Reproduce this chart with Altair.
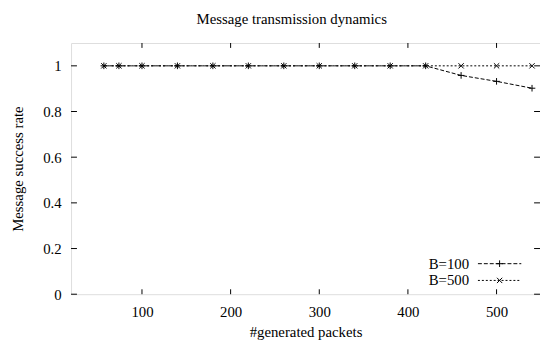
import altair as alt
import pandas as pd

FONT = "Liberation Serif"

packets = [57, 74, 100, 140, 180, 220, 260, 300, 340, 380, 420, 460, 500, 540]
rate_b100 = [1.0, 1.0, 1.0, 1.0, 1.0, 1.0, 1.0, 1.0, 1.0, 1.0, 1.0, 0.958, 0.932, 0.902]
rate_b500 = [1.0, 1.0, 1.0, 1.0, 1.0, 1.0, 1.0, 1.0, 1.0, 1.0, 1.0, 1.0, 1.0, 1.0]
series_names = ["B=100", "B=500"]
x_ticks = [100, 200, 300, 400, 500]
y_ticks = [0, 0.2, 0.4, 0.6, 0.8, 1]

rows = []
for x, v in zip(packets, rate_b100):
    rows.append({"packets": x, "rate": v, "series": series_names[0]})
for x, v in zip(packets, rate_b500):
    rows.append({"packets": x, "rate": v, "series": series_names[1]})
df = pd.DataFrame(rows)

W, H = 476, 255
PLUS = "M-1,0H1M0,-1V1"
XSYM = "M-0.8,-0.8L0.8,0.8M-0.8,0.8L0.8,-0.8"
dashes = [[4, 2], [2, 2]]
shapes = [PLUS, XSYM]

xs = alt.Scale(domain=[20, 549], nice=False, zero=False)
ys = alt.Scale(domain=[0, 1.1], nice=False)

x_enc = alt.X("packets:Q", scale=xs, axis=alt.Axis(
    values=x_ticks, title="#generated packets", grid=False, ticks=False, tickSize=0,
    domain=False, labelFont=FONT, labelFontSize=15, labelColor="black",
    labelPadding=11, titleFont=FONT, titleFontSize=15, titleFontWeight="normal",
    titleColor="black", titlePadding=5, labelFlush=False, format="d"))
y_enc = alt.Y("rate:Q", scale=ys, axis=alt.Axis(
    values=y_ticks, title="Message success rate", grid=False, ticks=False, tickSize=0,
    domain=False, labelFont=FONT, labelFontSize=15, labelColor="black",
    labelPadding=10, titleFont=FONT, titleFontSize=15, titleFontWeight="normal",
    titleColor="black", titlePadding=18, labelFlush=False, format="~g"))

lines = alt.Chart(df).mark_line(color="black", strokeWidth=1).encode(
    x=x_enc, y=y_enc,
    strokeDash=alt.StrokeDash("series:N", scale=alt.Scale(domain=series_names, range=dashes), legend=None),
)
points = alt.Chart(df).mark_point(color="black", filled=False, strokeWidth=1, size=45, opacity=1).encode(
    x=alt.X("packets:Q", scale=xs),
    y=alt.Y("rate:Q", scale=ys),
    shape=alt.Shape("series:N", scale=alt.Scale(domain=series_names, range=shapes), legend=None),
)

xt = pd.DataFrame({"t": x_ticks})
yt = pd.DataFrame({"t": y_ticks})
bottom_ticks = alt.Chart(xt).mark_rule(color="black", strokeWidth=1).encode(
    x=alt.X("t:Q", scale=xs), y=alt.value(H), y2=alt.value(H - 5))
top_ticks = alt.Chart(xt).mark_rule(color="black", strokeWidth=1).encode(
    x=alt.X("t:Q", scale=xs), y=alt.value(0), y2=alt.value(5))
left_ticks = alt.Chart(yt).mark_rule(color="black", strokeWidth=1).encode(
    y=alt.Y("t:Q", scale=ys), x=alt.value(0), x2=alt.value(6))
right_ticks = alt.Chart(yt).mark_rule(color="black", strokeWidth=1).encode(
    y=alt.Y("t:Q", scale=ys), x=alt.value(W - 6), x2=alt.value(W))

legend_layers = []
for i, name in enumerate(series_names):
    ly = 224 + 17 * i
    ldf = pd.DataFrame({"series": [name]})
    legend_layers.append(alt.Chart(ldf).mark_text(
        align="right", baseline="middle", font=FONT, fontSize=15, color="black").encode(
        text="series:N", x=alt.value(404), y=alt.value(ly)))
    legend_layers.append(alt.Chart(ldf).mark_rule(
        color="black", strokeWidth=1, strokeDash=dashes[i]).encode(
        x=alt.value(413), x2=alt.value(457), y=alt.value(ly)))
    legend_layers.append(alt.Chart(ldf).mark_point(
        color="black", filled=False, strokeWidth=1, size=45, shape=shapes[i], opacity=1).encode(
        x=alt.value(435), y=alt.value(ly)))

chart = alt.layer(
    lines, points, bottom_ticks, top_ticks, left_ticks, right_ticks, *legend_layers
).properties(
    width=W, height=H,
    title=alt.TitleParams("Message transmission dynamics", font=FONT, fontSize=15,
                          fontWeight="normal", color="black", offset=16, dx=-14),
    autosize=alt.AutoSizeParams(type="none"),
    padding={"left": 64, "top": 33, "right": 0, "bottom": 47},
).configure_view(stroke="black", strokeWidth=1).configure(background="white", font=FONT)

chart.save("out.html", embed_options={"renderer": "svg", "actions": False})
